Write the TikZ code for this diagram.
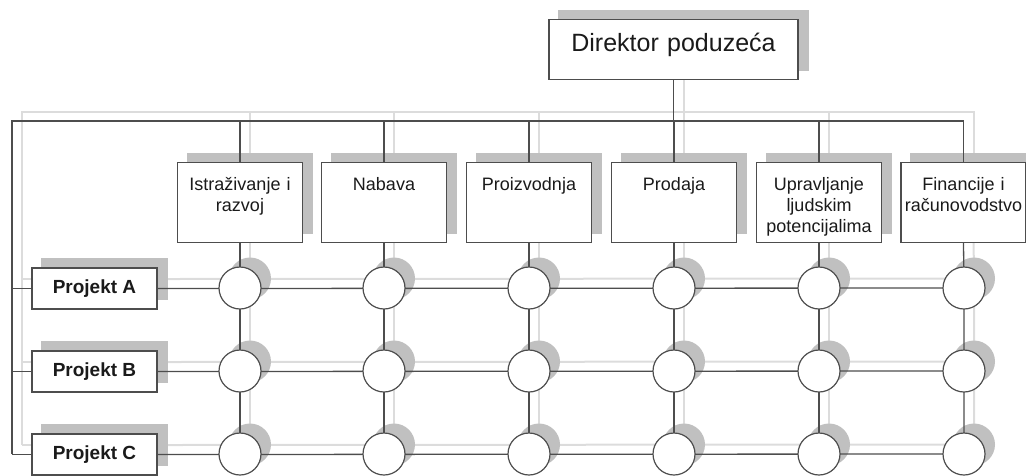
\documentclass[tikz,border=0pt]{standalone}
\usepackage{fontspec}
\setmainfont{Liberation Sans}
\pgfdeclarelayer{lshadow}
\pgfdeclarelayer{bshadow}
\pgfdeclarelayer{conn}
\pgfsetlayers{lshadow,bshadow,conn,main}
\definecolor{linec}{HTML}{4D4D4D}
\definecolor{shline}{HTML}{DCDCDC}
\definecolor{shfill}{HTML}{C0C0C0}
\definecolor{txt}{HTML}{1A1A1A}
\tikzset{
  box/.style={draw=linec, line width=1.2pt, fill=white, text=txt, inner xsep=2pt, inner ysep=0pt, align=center},
  dirbox/.style={box, anchor=north, text width=245pt, text height=32pt, text depth=28pt, font=\fontsize{25}{30}\selectfont},
  dept/.style={box, anchor=north, text width=121pt, text height=28pt, text depth=52pt, font=\fontsize{18}{21}\selectfont},
  proj/.style={box, minimum width=125pt, minimum height=41pt, font=\fontsize{19}{22}\selectfont\bfseries},
  cell/.style={circle, draw=linec, line width=1.2pt, fill=white, minimum size=42pt, inner sep=0pt},
  conn/.style={draw=linec, line width=1.3pt},
  shconn/.style={draw=shline, line width=2pt},
}
\newcommand\orgnet[1]{%
  \path[#1] (dir.south) -- (dir.south |- tl);
  \path[#1] (bl) -- (tl) -- (tl -| d6.north) -- (d6.north);
  \foreach \i in {1,...,5} {\path[#1] (tl -| d\i.north) -- (d\i.north);}
  \foreach \i in {1,...,6} {\path[#1] (d\i.south) -- (a\i.center) -- (b\i.center) -- (c\i.center);}
  \path[#1] (tl |- pA.west) -- (pA.west);
  \path[#1] (tl |- pB.west) -- (pB.west);
  \path[#1] (tl |- pC.west) -- (pC.west);
  \path[#1] (pA.east) -- (a6.center);
  \path[#1] (pB.east) -- (b6.center);
  \path[#1] (pC.east) -- (c6.center);
}
\begin{document}
\begin{tikzpicture}[x=1pt,y=-1pt]
\useasboundingbox (0,0) rectangle (1026,475);
% nodes
\node[dirbox] (dir) at (673.5,19) {Direktor poduzeća};
\node[dept] (d1) at (240,162) {Istraživanje i\\razvoj};
\node[dept] (d2) at (384,162) {Nabava};
\node[dept] (d3) at (529,162) {Proizvodnja};
\node[dept] (d4) at (674,162) {Prodaja};
\node[dept] (d5) at (819,162) {Upravljanje\\ljudskim\\potencijalima};
\node[dept] (d6) at (963.5,162) {Financije i\\računovodstvo};
\node[proj] (pA) at (94.5,288.5) {Projekt A};
\node[proj] (pB) at (94.5,371.5) {Projekt B};
\node[proj] (pC) at (94.5,454.5) {Projekt C};
\foreach \i/\x in {1/240,2/384,3/529,4/674,5/819,6/964} {
  \node[cell] (a\i) at (\x,288) {};
  \node[cell] (b\i) at (\x,371) {};
  \node[cell] (c\i) at (\x,454) {};
}
\coordinate (tl) at (12,121);
\coordinate (bl) at (12,454);
% shadows of boxes and circles
\begin{pgfonlayer}{bshadow}
  \foreach \n in {dir,d1,d2,d3,d4,d5,d6,pA,pB,pC}
    \fill[shfill] ([shift={(10pt,9.5pt)}]\n.south west) rectangle ([shift={(10pt,9.5pt)}]\n.north east);
  \foreach \i in {1,...,6} {
    \fill[shfill] ([shift={(10pt,9.5pt)}]a\i.center) circle[radius=21pt];
    \fill[shfill] ([shift={(10pt,9.5pt)}]b\i.center) circle[radius=21pt];
    \fill[shfill] ([shift={(10pt,9.5pt)}]c\i.center) circle[radius=21pt];
  }
\end{pgfonlayer}
% shadow connectors
\begin{pgfonlayer}{lshadow}
  \begin{scope}[transform canvas={shift={(10pt,9.5pt)}}]
    \orgnet{shconn}
  \end{scope}
\end{pgfonlayer}
% connectors
\begin{pgfonlayer}{conn}
  \orgnet{conn}
\end{pgfonlayer}
\end{tikzpicture}
\end{document}
